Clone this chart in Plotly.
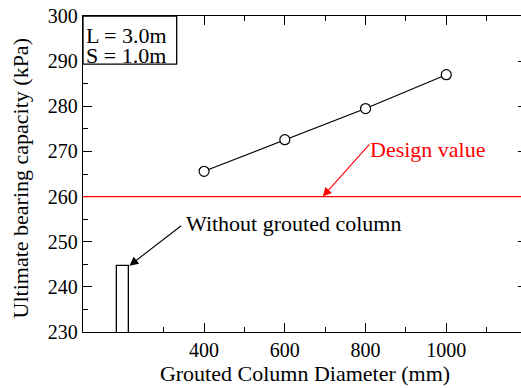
import plotly.graph_objects as go

diameters = [400, 600, 800, 1000]
capacity = [265.6, 272.6, 279.5, 287.0]
no_column_x = [200]
no_column_val = [244.7]
design_value = 260
x_major = [400, 600, 800, 1000]
x_minor = [300, 500, 700, 900, 1100]

FONT = "Liberation Serif, Times New Roman, serif"

fig = go.Figure()
fig.add_trace(go.Bar(x=no_column_x, y=no_column_val, width=30,
                     marker=dict(color="white", line=dict(color="black", width=1.3)),
                     showlegend=False))
fig.add_trace(go.Scatter(x=diameters, y=capacity, mode="lines+markers",
                         line=dict(color="black", width=1.2),
                         marker=dict(symbol="circle", size=10, color="white",
                                     line=dict(color="black", width=1.2)),
                         showlegend=False))
fig.add_shape(type="line", xref="paper", x0=0, x1=1, yref="y", y0=design_value, y1=design_value,
              line=dict(color="red", width=1.2))

# legend-like box
fig.add_shape(type="rect", xref="paper", yref="paper", x0=0, x1=0.211, y0=0.848, y1=1,
              line=dict(color="black", width=1.3), fillcolor="white")
fig.add_annotation(xref="paper", yref="paper", x=0.0, xshift=2, y=0.940, xanchor="left", yanchor="middle",
                   text="L = 3.0m", showarrow=False, height=20, borderpad=0,
                   font=dict(family=FONT, size=22, color="black"))
fig.add_annotation(xref="paper", yref="paper", x=0.0, xshift=2, y=0.878, xanchor="left", yanchor="middle",
                   text="S = 1.0m", showarrow=False, height=20, borderpad=0,
                   font=dict(family=FONT, size=22, color="black"))

# arrows
fig.add_annotation(x=215, y=244.7, ax=347, ay=253.8, axref="x", ayref="y", text="",
                   showarrow=True, arrowhead=2, arrowsize=1.6, arrowwidth=1.1, arrowcolor="black")
fig.add_annotation(x=349, y=254.0, text="Without grouted column", showarrow=False,
                   xanchor="left", yanchor="middle", font=dict(family=FONT, size=22, color="black"))
fig.add_annotation(x=694, y=260, ax=813, ay=271.9, axref="x", ayref="y", text="",
                   showarrow=True, arrowhead=2, arrowsize=1.6, arrowwidth=1.1, arrowcolor="red")
fig.add_annotation(x=806, y=270.4, text="Design value", showarrow=False,
                   xanchor="left", yanchor="middle", font=dict(family=FONT, size=22, color="red"))

# y-axis title as annotation (slightly below plot centre as in reference)
fig.add_annotation(xref="paper", yref="paper", x=0, xshift=-63, y=0.486, xanchor="center",
                   yanchor="middle", textangle=-90, text="Ultimate bearing capacity (kPa)",
                   showarrow=False, font=dict(family=FONT, size=22, color="black"))

# the original figure's right frame lies just past the 521 px window edge
fig.update_layout(
    width=527, height=388,
    margin=dict(l=83, r=0, t=16, b=56),
    plot_bgcolor="white", paper_bgcolor="white",
    font=dict(family=FONT, size=20, color="black"),
    bargap=0,
)
fig.update_xaxes(range=[100, 1200], tickmode="array", tickvals=x_major,
                 ticks="inside", ticklen=9, tickwidth=1, tickcolor="black",
                 minor=dict(tickmode="array", tickvals=x_minor, ticks="inside", ticklen=5,
                            tickwidth=1, tickcolor="black"),
                 showline=True, linecolor="black", linewidth=1.3, mirror="ticks",
                 showgrid=False, zeroline=False,
                 title=dict(text="Grouted Column Diameter (mm)", standoff=5,
                            font=dict(family=FONT, size=22)),
                 tickfont=dict(family=FONT, size=20))
fig.update_yaxes(range=[230, 300], tickmode="linear", tick0=230, dtick=10,
                 ticks="inside", ticklen=9, tickwidth=1, tickcolor="black",
                 minor=dict(dtick=5, ticks="inside", ticklen=5, tickwidth=1, tickcolor="black"),
                 showline=True, linecolor="black", linewidth=1.3, mirror="ticks",
                 showgrid=False, zeroline=False,
                 tickfont=dict(family=FONT, size=20))

fig.write_html("out.html", config={"displayModeBar": False},
               post_script="document.body.style.margin='0';document.body.style.overflow='hidden';document.documentElement.style.overflow='hidden';")
